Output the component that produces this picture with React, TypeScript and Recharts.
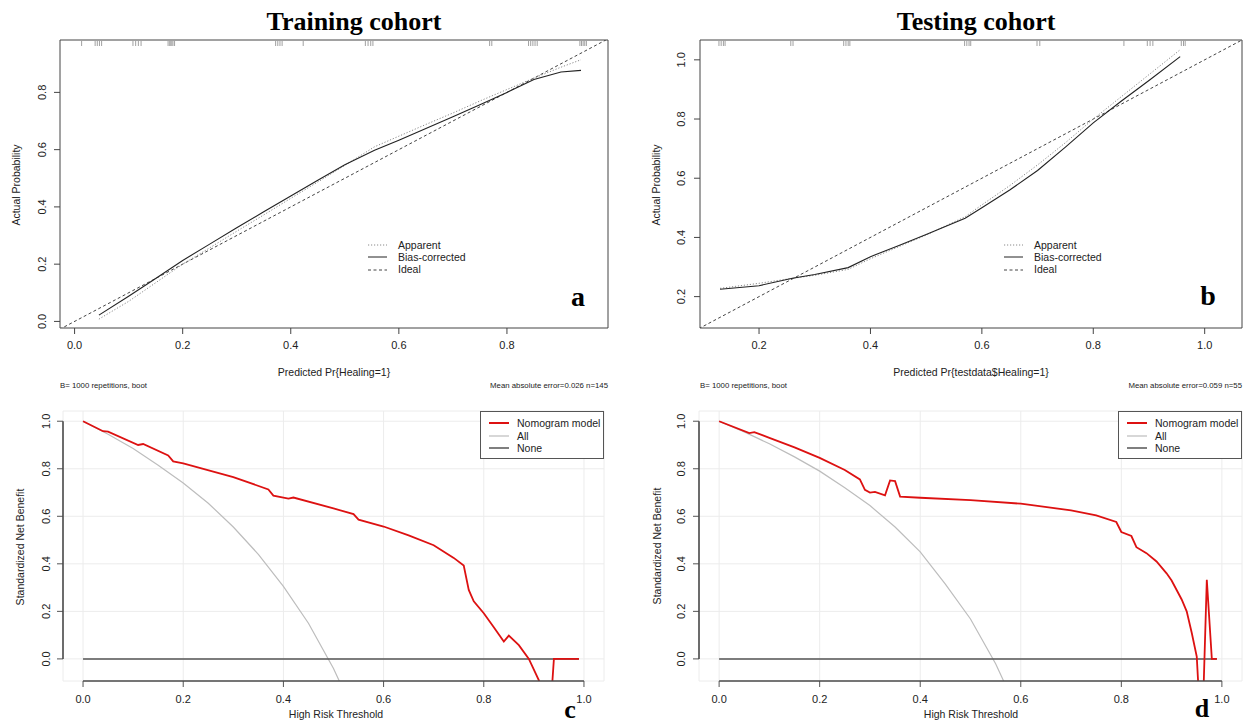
import React from "react";
import { LineChart, Line, XAxis, YAxis, CartesianGrid, ReferenceArea, ReferenceLine, Legend } from "recharts";

const SANS = "'Liberation Sans', Arial, Helvetica, sans-serif";
const SERIF = "'Liberation Serif', 'Times New Roman', serif";

// calibration, training cohort (n=145)
const trainPred = [0.045, 0.1, 0.15, 0.2, 0.25, 0.3, 0.35, 0.4, 0.45, 0.5, 0.555, 0.6, 0.65, 0.7, 0.75, 0.8, 0.85, 0.9, 0.937];
const trainApparent = [0.008, 0.07, 0.135, 0.2, 0.257, 0.315, 0.372, 0.43, 0.487, 0.545, 0.61, 0.647, 0.688, 0.728, 0.77, 0.81, 0.85, 0.888, 0.914];
const trainBias = [0.022, 0.088, 0.15, 0.213, 0.27, 0.327, 0.383, 0.438, 0.493, 0.547, 0.598, 0.633, 0.674, 0.715, 0.757, 0.8, 0.845, 0.871, 0.877];
const trainRug = [0.013, 0.038, 0.042, 0.046, 0.05, 0.108, 0.113, 0.118, 0.123, 0.173, 0.176, 0.178, 0.18, 0.182, 0.185, 0.372, 0.376, 0.38, 0.384, 0.423, 0.538, 0.543, 0.548, 0.552, 0.768, 0.772, 0.84, 0.844, 0.848, 0.852, 0.856, 0.935, 0.938, 0.941, 0.944, 0.947];

// calibration, testing cohort (n=55)
const testPred = [0.13, 0.2, 0.26, 0.3, 0.36, 0.4, 0.45, 0.5, 0.57, 0.6, 0.65, 0.7, 0.75, 0.8, 0.85, 0.9, 0.956];
const testApparent = [0.228, 0.245, 0.262, 0.272, 0.292, 0.328, 0.368, 0.408, 0.47, 0.51, 0.575, 0.645, 0.72, 0.8, 0.875, 0.95, 1.034];
const testBias = [0.225, 0.237, 0.262, 0.275, 0.298, 0.335, 0.372, 0.41, 0.465, 0.5, 0.56, 0.626, 0.705, 0.787, 0.86, 0.93, 1.011];
const testRug = [0.128, 0.132, 0.136, 0.139, 0.257, 0.261, 0.352, 0.356, 0.36, 0.363, 0.569, 0.573, 0.577, 0.58, 0.699, 0.704, 0.855, 0.897, 0.902, 0.907, 0.958, 0.962, 0.965];

const idealRange = [-0.1, 1.2];

// decision curves
const dcaTrainThr = [0, 0.04, 0.05, 0.11, 0.12, 0.17, 0.18, 0.2, 0.3, 0.37, 0.38, 0.41, 0.42, 0.5, 0.54, 0.55, 0.6, 0.65, 0.7, 0.74, 0.76, 0.77, 0.78, 0.8, 0.82, 0.84, 0.85, 0.87, 0.89, 0.91, 0.92, 0.93, 0.94, 0.95, 0.99];
const dcaTrainModel = [1.0, 0.958, 0.956, 0.9, 0.904, 0.856, 0.831, 0.823, 0.765, 0.713, 0.687, 0.674, 0.679, 0.633, 0.609, 0.586, 0.557, 0.52, 0.478, 0.425, 0.393, 0.29, 0.242, 0.192, 0.133, 0.073, 0.098, 0.058, 0.0, -0.09, -0.2, -0.31, 0.0, 0.0, 0.0];
const dcaTestThr = [0, 0.06, 0.07, 0.1, 0.15, 0.2, 0.25, 0.28, 0.29, 0.3, 0.31, 0.33, 0.34, 0.35, 0.36, 0.4, 0.5, 0.6, 0.7, 0.75, 0.79, 0.8, 0.82, 0.83, 0.85, 0.87, 0.89, 0.9, 0.91, 0.92, 0.93, 0.94, 0.95, 0.96, 0.97, 0.98, 0.99];
const dcaTestModel = [1.0, 0.95, 0.954, 0.93, 0.89, 0.846, 0.795, 0.755, 0.711, 0.7, 0.703, 0.688, 0.751, 0.748, 0.683, 0.678, 0.668, 0.653, 0.625, 0.604, 0.576, 0.534, 0.517, 0.47, 0.445, 0.41, 0.36, 0.33, 0.29, 0.25, 0.2, 0.11, 0.01, -0.38, 0.333, 0.0, 0.0];
const allThr = [0, 0.05, 0.1, 0.15, 0.2, 0.25, 0.3, 0.35, 0.4, 0.45, 0.5, 0.55, 0.6];
const allTrain = [1.0, 0.945, 0.885, 0.815, 0.74, 0.655, 0.555, 0.44, 0.305, 0.15, -0.04, -0.27, -0.55];
const allTest = [1.0, 0.955, 0.905, 0.85, 0.79, 0.72, 0.645, 0.555, 0.45, 0.315, 0.168, -0.02, -0.25];
const noneThr = [0, 0.99];
const noneVal = [0, 0];

const calTicks = [0, 0.2, 0.4, 0.6, 0.8];
const calTestTicks = [0.2, 0.4, 0.6, 0.8, 1.0];
const dcaTicks = [0, 0.2, 0.4, 0.6, 0.8, 1.0];

const DCA_X = [-0.04, 1.04];
const DCA_Y = [-0.093, 1.043];
const DCA_H = 343;
const AXIS_W = 50;
const AXIS_H = 30;

const pts = (xs: number[], ys: number[]) => xs.map((x, i) => ({ x, y: ys[i] }));
const fmt = (v: number) => v.toFixed(1);
const lerp = (a: number, b: number, d: number[], v: number) => a + ((v - d[0]) / (d[1] - d[0])) * (b - a);

const RotTick = (p: any) => (
  <text x={p.x} y={p.y} transform={`rotate(-90 ${p.x} ${p.y})`} textAnchor="middle" fontSize={11} fill="#222" fontFamily={SANS}>
    {fmt(Number(p.payload.value))}
  </text>
);

const RugMark = (p: any) => {
  const top = Math.min(p.y1, p.y2);
  return <line x1={p.x1} x2={p.x1} y1={top} y2={top + 6} stroke="#a0a0a0" strokeWidth={1} />;
};

const calKeys = [
  { label: "Apparent", color: "#8a8a8a", dash: "1.2 1.8" },
  { label: "Bias-corrected", color: "#222", dash: undefined },
  { label: "Ideal", color: "#444", dash: "3 2.5" },
];
const dcaKeys = [
  { label: "Nomogram model", color: "#dd1111", w: 2 },
  { label: "All", color: "#bdbdbd", w: 1.2 },
  { label: "None", color: "#555", w: 1.5 },
];

const CalKey = () => (
  <div style={{ fontFamily: SANS, fontSize: 10.5, color: "#222", whiteSpace: "nowrap" }}>
    {calKeys.map((k) => (
      <div key={k.label} style={{ display: "flex", alignItems: "center", height: 12.3 }}>
        <svg width={19} height={6}>
          <line x1={0} x2={19} y1={3} y2={3} stroke={k.color} strokeWidth={1} strokeDasharray={k.dash} />
        </svg>
        <span style={{ marginLeft: 11, lineHeight: 1 }}>{k.label}</span>
      </div>
    ))}
  </div>
);

const DcaKey = () => (
  <div style={{ fontFamily: SANS, fontSize: 10.5, color: "#222", whiteSpace: "nowrap", border: "1px solid #555", background: "#fff", width: 124, height: 48, padding: "5px 0 0 8px", boxSizing: "border-box" }}>
    {dcaKeys.map((k) => (
      <div key={k.label} style={{ display: "flex", alignItems: "center", height: 12.5 }}>
        <svg width={20} height={6} style={{ flex: "none" }}>
          <line x1={0} x2={20} y1={3} y2={3} stroke={k.color} strokeWidth={k.w} />
        </svg>
        <span style={{ marginLeft: 8, lineHeight: 1 }}>{k.label}</span>
      </div>
    ))}
  </div>
);

function Calibration(props: any) {
  const { left, top, width, margin, xDomain, yDomain, xTicks, yTicks, pred, apparent, bias, rug, yTickMargin, keyLeft } = props;
  const ideal = pts(idealRange, idealRange);
  return (
    <div style={{ position: "absolute", left, top }}>
      <LineChart width={width} height={400} margin={margin}>
        <XAxis type="number" dataKey="x" domain={xDomain} ticks={xTicks} interval={0} allowDataOverflow axisLine={false}
          tickLine={{ stroke: "#444" }} tickSize={6} tickMargin={7} height={AXIS_H} tickFormatter={fmt}
          tick={{ fontSize: 11, fill: "#222", fontFamily: SANS }} />
        <YAxis type="number" dataKey="y" domain={yDomain} ticks={yTicks} interval={0} allowDataOverflow axisLine={false}
          tickLine={{ stroke: "#444" }} tickSize={6} tickMargin={yTickMargin} width={AXIS_W} tick={(p: any) => <RotTick {...p} />} />
        <ReferenceArea x1={xDomain[0]} x2={xDomain[1]} y1={yDomain[0]} y2={yDomain[1]} fill="none" stroke="#444" strokeWidth={1} fillOpacity={0} strokeOpacity={1} />
        {rug.map((v: number, i: number) => (
          <ReferenceLine key={i} x={v} shape={RugMark} />
        ))}
        <Line data={ideal} dataKey="y" stroke="#444" strokeWidth={1} strokeDasharray="3 2.5" dot={false} isAnimationActive={false} />
        <Line data={pts(pred, apparent)} dataKey="y" stroke="#8a8a8a" strokeWidth={1} strokeDasharray="1.2 1.8" dot={false} isAnimationActive={false} />
        <Line data={pts(pred, bias)} dataKey="y" stroke="#222" strokeWidth={1.1} dot={false} isAnimationActive={false} />
        <Legend layout="vertical" align="center" verticalAlign="middle" content={CalKey} wrapperStyle={{ left: keyLeft, top: 239, width: "auto" }} />
      </LineChart>
    </div>
  );
}

function DecisionCurve(props: any) {
  const { left, width, margin, thr, model, all, yTickMargin, keyLeft } = props;
  // plot box, used for the R-style axis lines that run only from the first to the last tick
  const pl = margin.left + AXIS_W;
  const pr = width - margin.right;
  const pt = margin.top;
  const pb = DCA_H - margin.bottom - AXIS_H;
  return (
    <div style={{ position: "absolute", left, top: 380 }}>
      <LineChart width={width} height={DCA_H} margin={margin}>
        <CartesianGrid stroke="#ececec" strokeWidth={1} />
        <XAxis type="number" dataKey="x" domain={DCA_X} ticks={dcaTicks} interval={0} allowDataOverflow axisLine={false}
          tickLine={{ stroke: "#555" }} tickSize={6} tickMargin={8} height={AXIS_H} tickFormatter={fmt}
          tick={{ fontSize: 11, fill: "#222", fontFamily: SANS }} />
        <YAxis type="number" dataKey="y" domain={DCA_Y} ticks={dcaTicks} interval={0} allowDataOverflow axisLine={false}
          tickLine={{ stroke: "#555" }} tickSize={6} tickMargin={yTickMargin} width={AXIS_W} tick={(p: any) => <RotTick {...p} />} />
        <Line data={pts(allThr, all)} dataKey="y" stroke="#bdbdbd" strokeWidth={1.2} dot={false} isAnimationActive={false} />
        <Line data={pts(noneThr, noneVal)} dataKey="y" stroke="#555" strokeWidth={1.5} dot={false} isAnimationActive={false} />
        <Line data={pts(thr, model)} dataKey="y" stroke="#dd1111" strokeWidth={1.8} dot={false} isAnimationActive={false} />
        <Legend layout="vertical" align="center" verticalAlign="middle" content={DcaKey} wrapperStyle={{ left: keyLeft, top: 31, width: "auto" }} />
      </LineChart>
      <svg width={width} height={DCA_H} style={{ position: "absolute", left: 0, top: 0, pointerEvents: "none" }}>
        <line x1={lerp(pl, pr, DCA_X, 0)} x2={lerp(pl, pr, DCA_X, 1)} y1={pb} y2={pb} stroke="#4a4a4a" strokeWidth={1.6} />
        <line x1={pl} x2={pl} y1={lerp(pb, pt, DCA_Y, 0)} y2={lerp(pb, pt, DCA_Y, 1)} stroke="#4a4a4a" strokeWidth={1.6} />
      </svg>
    </div>
  );
}

const Txt = ({ x, y, children, size = 10.5, anchor = "middle", rotate = false, serif = false, lh = 1 }: any) => {
  const tx = anchor === "start" ? "0" : anchor === "end" ? "-100%" : "-50%";
  return (
    <div style={{
      position: "absolute", left: x, top: y, whiteSpace: "nowrap", lineHeight: lh, fontSize: size, color: serif ? "#000" : "#222",
      fontFamily: serif ? SERIF : SANS, fontWeight: serif ? "bold" : "normal",
      transform: `translate(${tx}, -50%)${rotate ? " rotate(-90deg)" : ""}`, transformOrigin: "center",
    }}>
      {children}
    </div>
  );
};

export default function App() {
  return (
    <div style={{ position: "absolute", left: 0, top: 0, width: 1248, height: 723, background: "#fff", overflow: "hidden" }}>
      <Calibration left={0} top={0} width={620} margin={{ top: 40, right: 12, bottom: 42, left: 10 }}
        xDomain={[-0.027, 0.987]} yDomain={[-0.023, 0.983]} xTicks={calTicks} yTicks={calTicks}
        pred={trainPred} apparent={trainApparent} bias={trainBias} rug={trainRug} yTickMargin={8} keyLeft={368} />
      <Calibration left={630} top={0} width={618} margin={{ top: 40, right: 6, bottom: 42, left: 20 }}
        xDomain={[0.094, 1.067]} yDomain={[0.094, 1.067]} xTicks={calTestTicks} yTicks={calTestTicks}
        pred={testPred} apparent={testApparent} bias={testBias} rug={testRug} yTickMargin={9} keyLeft={374} />
      <DecisionCurve left={0} width={620} margin={{ top: 31, right: 16, bottom: 12, left: 13 }}
        thr={dcaTrainThr} model={dcaTrainModel} all={allTrain} yTickMargin={7} keyLeft={480} />
      <DecisionCurve left={630} width={618} margin={{ top: 31, right: 6, bottom: 12, left: 19 }}
        thr={dcaTestThr} model={dcaTestModel} all={allTest} yTickMargin={8} keyLeft={488} />

      <Txt x={354} y={22} size={26} serif>Training cohort</Txt>
      <Txt x={976} y={22} size={26} serif>Testing cohort</Txt>
      <Txt x={578} y={296} size={28} serif lh={0.75}>a</Txt>
      <Txt x={1208} y={295} size={28} serif lh={0.75}>b</Txt>
      <Txt x={570} y={709.5} size={26} serif lh={0.3}>c</Txt>
      <Txt x={1202} y={709} size={26} serif lh={0.3}>d</Txt>

      <Txt x={16} y={185} rotate>Actual Probability</Txt>
      <Txt x={656} y={185} rotate>Actual Probability</Txt>
      <Txt x={20} y={547} rotate>Standardized Net Benefit</Txt>
      <Txt x={657} y={546} rotate>Standardized Net Benefit</Txt>

      <Txt x={334} y={372}>Predicted Pr{"{"}Healing=1{"}"}</Txt>
      <Txt x={971} y={372}>Predicted Pr{"{"}testdata$Healing=1{"}"}</Txt>
      <Txt x={336} y={714}>High Risk Threshold</Txt>
      <Txt x={971} y={714}>High Risk Threshold</Txt>

      <Txt x={60} y={386} size={7.8} anchor="start">B= 1000 repetitions, boot</Txt>
      <Txt x={608} y={386} size={7.8} anchor="end">Mean absolute error=0.026 n=145</Txt>
      <Txt x={700} y={386} size={7.8} anchor="start">B= 1000 repetitions, boot</Txt>
      <Txt x={1242} y={386} size={7.8} anchor="end">Mean absolute error=0.059 n=55</Txt>
    </div>
  );
}
